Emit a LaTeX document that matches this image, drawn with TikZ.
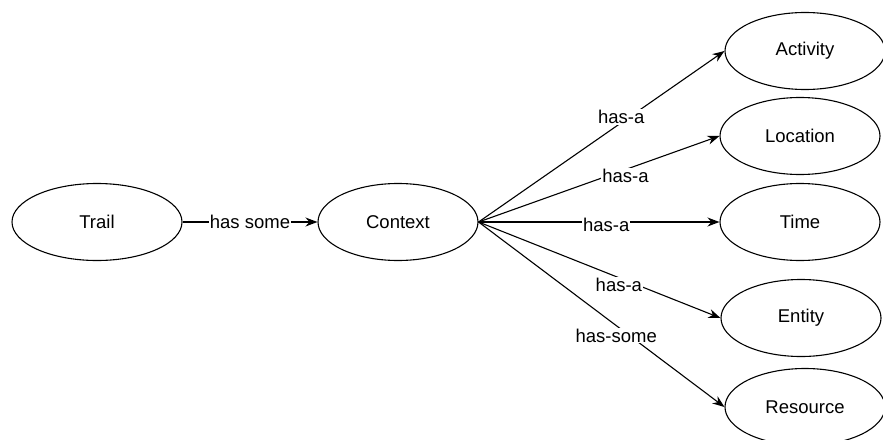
\documentclass[tikz,border=0pt]{standalone}
\usepackage{fontspec}
\setmainfont{Liberation Sans}
\usetikzlibrary{shapes.geometric,arrows.meta}

\begin{document}
\begin{tikzpicture}[x=1pt, y=-1pt, line width=1.1pt, >={Stealth[length=12pt,width=9pt]},
    every node/.style={font=\fontsize{18.5}{22}\selectfont},
    concept/.style={draw, ellipse, minimum width=160pt, minimum height=77pt, inner sep=0pt},
    rel/.style={fill=white, inner sep=1pt}]
  \useasboundingbox (0,0) rectangle (883,439);

  \node [concept, minimum width=170pt] (trail) at (97,222) {Trail};
  \node [concept] (ctx) at (398,222) {Context};

  \node [concept] (act) at (805,51) {Activity};
  \node [concept] (loc) at (800,136) {Location};
  \node [concept] (time) at (800,222) {Time};
  \node [concept] (ent) at (801,318) {Entity};
  \node [concept] (res) at (805,407) {Resource};

  \draw [->] (trail) -- node [rel] {has some} (ctx);

  \path [->] (ctx.east) edge node [rel, pos=0.58, yshift=6pt] {has-a} (act.west)
             (ctx.east) edge node [rel, pos=0.61, yshift=-6pt] {has-a} (loc.west)
             (ctx.east) edge node [rel, pos=0.53, yshift=-3pt] {has-a} (time.west)
             (ctx.east) edge node [rel, pos=0.58, yshift=-7pt] {has-a} (ent.west)
             (ctx.east) edge node [rel, pos=0.56, yshift=-10pt] {has-some} (res.west);
\end{tikzpicture}
\end{document}
